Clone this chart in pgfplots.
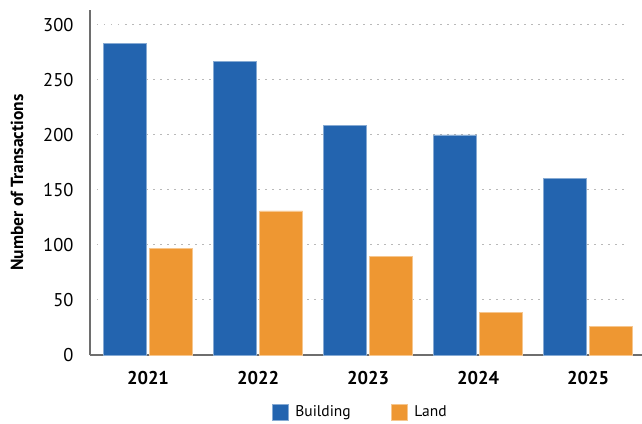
\documentclass[border=0pt]{standalone}
\usepackage{fontspec}
\setmainfont{PT Sans}
\usepackage{pgfplots}
\pgfplotsset{compat=1.18}
\definecolor{cblue}{RGB}{35,100,175}
\definecolor{corange}{RGB}{238,151,50}
\definecolor{axgray}{RGB}{110,110,110}
\begin{document}
\begin{tikzpicture}
\begin{axis}[
  name=ax,
  scale only axis,
  width=535pt, height=345pt,
  xmin=-0.5273, xmax=4.336,
  ymin=0, ymax=313.6,
  clip=false,
  axis x line*=bottom, axis y line*=left,
  x axis line style={-, axgray, line width=1.2pt, shorten >=-17pt},
  y axis line style={-, axgray, line width=1.2pt},
  major tick length=0pt,
  ybar=3pt, bar width=43pt,
  xtick=data,
  xticklabels={2021,2022,2023,2024,2025},
  ytick={0,50,100,150,200,250,300},
  ymajorgrids,
  grid style={gray!55, line width=1pt, dash pattern=on 1.5pt off 5.5pt},
  /pgf/number format/assume math mode=true,
  yticklabel style={font=\fontsize{18.5}{21}\selectfont, xshift=-13pt},
  xticklabel style={font=\fontsize{18.5}{21}\selectfont\bfseries, yshift=-13pt},
  ylabel={Number of Transactions},
  ylabel style={font=\fontsize{17.5}{20}\selectfont\bfseries, at={(axis description cs:-0.1365,0.5)}, anchor=center},
  legend columns=2,
  legend style={draw=none, at={(axis description cs:0.505,-0.165)}, anchor=center,
    font=\fontsize{15.5}{18}\selectfont,
    /tikz/every odd column/.append style={column sep=5pt},
    /tikz/every even column/.append style={column sep=38pt}},
  legend image code/.code={\fill[#1] (0pt,-8pt) rectangle (16pt,8pt);},
]
\addplot[fill=cblue, draw=cblue!55!white, line width=0.6pt] coordinates {(0,283.4) (1,266.7) (2,209) (3,200) (4,160.6)};
\addplot[fill=corange, draw=corange!55!white, line width=0.6pt] coordinates {(0,96.7) (1,130.9) (2,89.4) (3,38.8) (4,26)};
\legend{Building, Land}
\end{axis}
\pgfresetboundingbox
\path (ax.south west) ++(-90pt,-68pt) rectangle ++(642pt,423pt);
\end{tikzpicture}
\end{document}
